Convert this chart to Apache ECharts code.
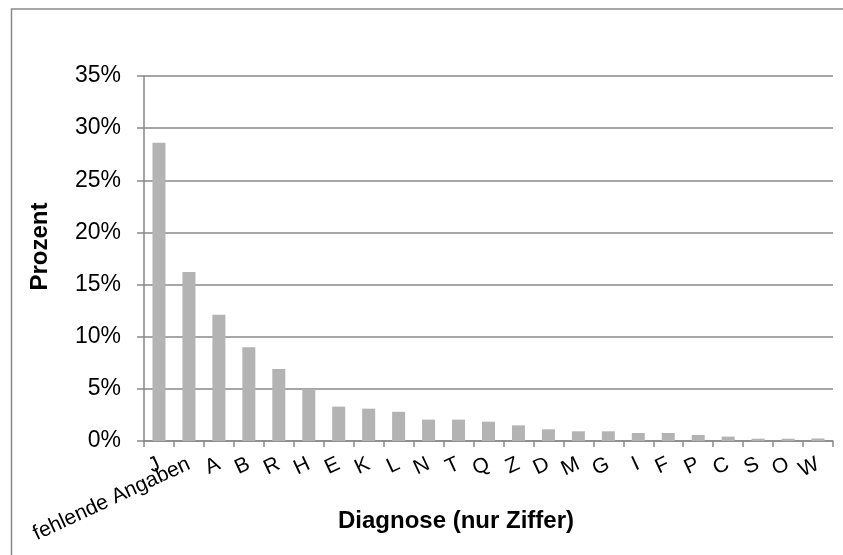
<!DOCTYPE html>
<html>
<head>
<meta charset="utf-8">
<script src="https://cdn.jsdelivr.net/npm/echarts@6/dist/echarts.min.js"></script>
<style>
  html, body { margin: 0; padding: 0; background: #fff; }
  #chart { width: 843px; height: 555px; }
</style>
</head>
<body>
<div id="chart"></div>
<script>
// Diagnosen (Anteil in Prozent)
const categories = ['J', 'fehlende Angaben', 'A', 'B', 'R', 'H', 'E', 'K', 'L', 'N', 'T',
  'Q', 'Z', 'D', 'M', 'G', 'I', 'F', 'P', 'C', 'S', 'O', 'W'];
const percentValues = [28.6, 16.2, 12.1, 9.0, 6.9, 5.0, 3.3, 3.1, 2.8, 2.05, 2.05,
  1.85, 1.5, 1.12, 0.93, 0.93, 0.77, 0.77, 0.58, 0.42, 0.22, 0.22, 0.24];
const yTicks = [0, 5, 10, 15, 20, 25, 30, 35];

const gray = '#898989';
const font = "'Liberation Sans', Arial, sans-serif";

const chart = echarts.init(document.getElementById('chart'));

chart.setOption({
  backgroundColor: '#fff',
  animation: false,
  textStyle: { fontFamily: font },
  graphic: [{
    type: 'rect',
    shape: { x: 11.5, y: 9, width: 1000, height: 1000 },
    style: { fill: 'none', stroke: gray, lineWidth: 1.5 },
    silent: true
  }],
  grid: {
    left: 144,
    right: 10,
    top: 76,
    bottom: 114,
    containLabel: false,
    outerBoundsMode: 'none'
  },
  xAxis: {
    type: 'category',
    data: categories,
    name: 'Diagnose (nur Ziffer)',
    nameLocation: 'middle',
    nameGap: 68,
    nameMoveOverlap: false,
    nameTextStyle: {
      fontFamily: font, fontSize: 24, fontWeight: 'bold', color: '#000',
      padding: [0, 65, 0, 0]
    },
    axisLine: { lineStyle: { color: gray, width: 1.5 } },
    axisTick: { show: true, length: 6, lineStyle: { color: gray, width: 1.5 } },
    axisLabel: {
      interval: 0,
      rotate: 25,
      margin: 22,
      fontFamily: font,
      fontSize: 21,
      color: '#000'
    }
  },
  yAxis: {
    type: 'value',
    min: yTicks[0],
    max: yTicks[yTicks.length - 1],
    interval: 5,
    name: 'Prozent',
    nameLocation: 'middle',
    nameGap: 92,
    nameMoveOverlap: false,
    nameTextStyle: {
      fontFamily: font, fontSize: 24, fontWeight: 'bold', color: '#000',
      padding: [0, 0, 0, 24]
    },
    axisLine: { show: true, lineStyle: { color: gray, width: 1.5 } },
    axisTick: { show: true, length: 7, lineStyle: { color: gray, width: 1.5 } },
    axisLabel: {
      margin: 23,
      fontFamily: font,
      fontSize: 23,
      color: '#000',
      formatter: '{value}%'
    },
    splitLine: { show: true, lineStyle: { color: gray, width: 1.5 } }
  },
  series: [{
    type: 'bar',
    data: percentValues,
    barWidth: 13,
    itemStyle: { color: '#b3b3b3' }
  }]
});
</script>
</body>
</html>
